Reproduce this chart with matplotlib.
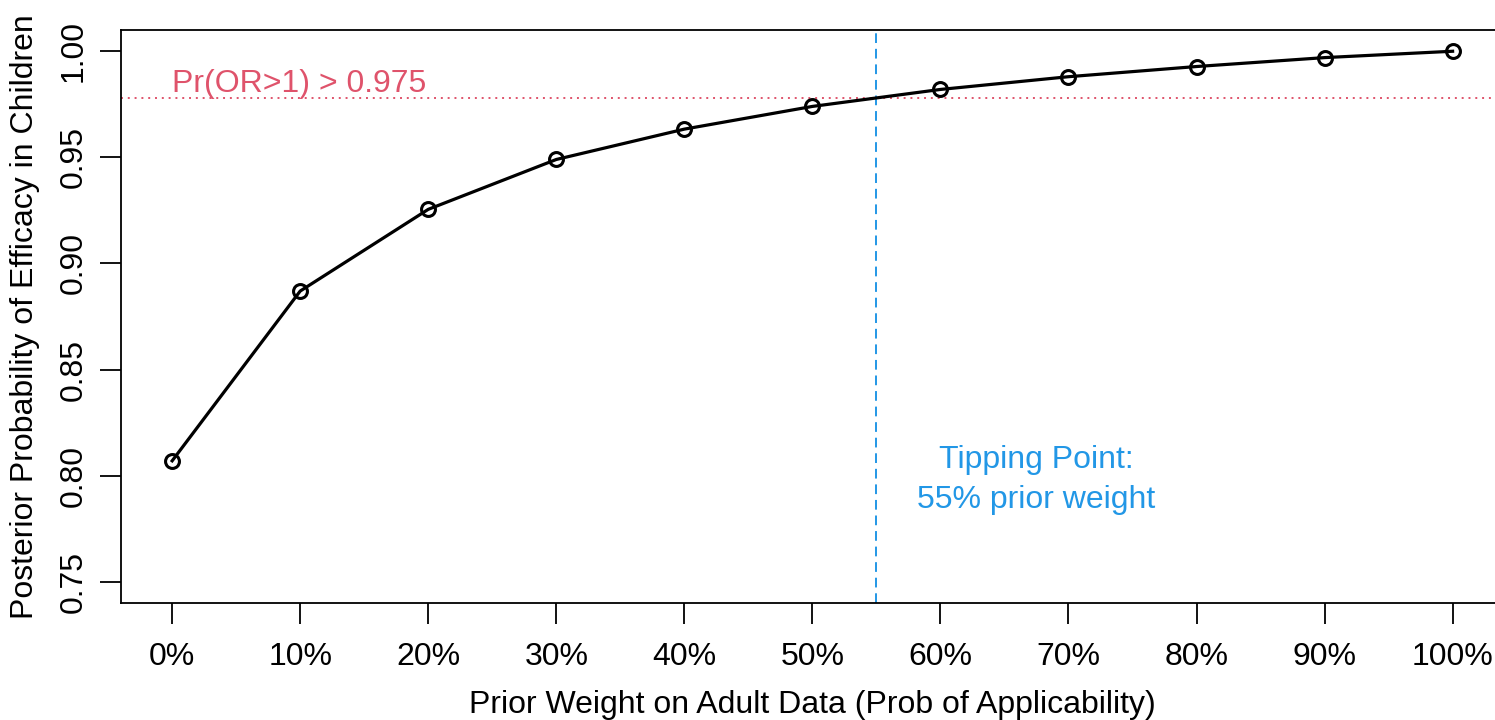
import matplotlib.pyplot as plt
import numpy as np

plt.rcParams['font.family'] = ['Liberation Sans', 'DejaVu Sans']

# prior weight on adult data (%) and posterior probability of efficacy
weights = [0, 10, 20, 30, 40, 50, 60, 70, 80, 90, 100]
post_prob = [0.807, 0.887, 0.9255, 0.949, 0.9633, 0.974, 0.982, 0.988, 0.9928, 0.997, 1.000]
x_labels = [f"{w}%" for w in weights]
y_ticks = [0.75, 0.80, 0.85, 0.90, 0.95, 1.00]

threshold = 0.978
tipping = 55

red = "#DF536B"
blue = "#2297E6"
fs = 23

fig = plt.figure(figsize=(14.95, 7.2), dpi=100)
ax = fig.add_axes([0.0809, 0.1625, 0.925, 0.7958])

ax.plot(weights, post_prob, color="black", lw=2.3, marker="o", ms=10,
        mfc="none", mec="black", mew=2.2, zorder=3)

ax.axhline(threshold, color=red, lw=1.4, ls=(0, (1, 2.5)))
ax.axvline(tipping, color=blue, lw=1.4, ls=(0, (5, 3)))

ax.text(0, 0.9807, "Pr(OR>1) > 0.975", color=red, fontsize=fs,
        ha="left", va="baseline")
ax.text(67.45, 0.8037, "Tipping Point:", color=blue, fontsize=fs,
        ha="center", va="baseline")
ax.text(67.45, 0.7848, "55% prior weight", color=blue, fontsize=fs,
        ha="center", va="baseline")

ax.set_xlim(-4, 104)
ax.set_ylim(0.74, 1.01)
ax.set_xticks(weights)
ax.set_xticklabels(x_labels)
ax.set_yticks(y_ticks)
ax.set_yticklabels([f"{v:.2f}" for v in y_ticks], rotation=90, va="center")
ax.tick_params(labelsize=fs, length=15, width=1.3)
ax.tick_params(axis="x", pad=13)
ax.tick_params(axis="y", pad=8)

for side in ["left", "bottom", "top", "right"]:
    ax.spines[side].set_linewidth(1.3)

ax.set_xlabel("Prior Weight on Adult Data (Prob of Applicability)", fontsize=fs)
ax.set_ylabel("Posterior Probability of Efficacy in Children", fontsize=fs)
ax.xaxis.set_label_coords(0.5, -0.1518)
ax.yaxis.set_label_coords(-0.0586, 0.5)

fig.savefig("out.png", dpi=100)
